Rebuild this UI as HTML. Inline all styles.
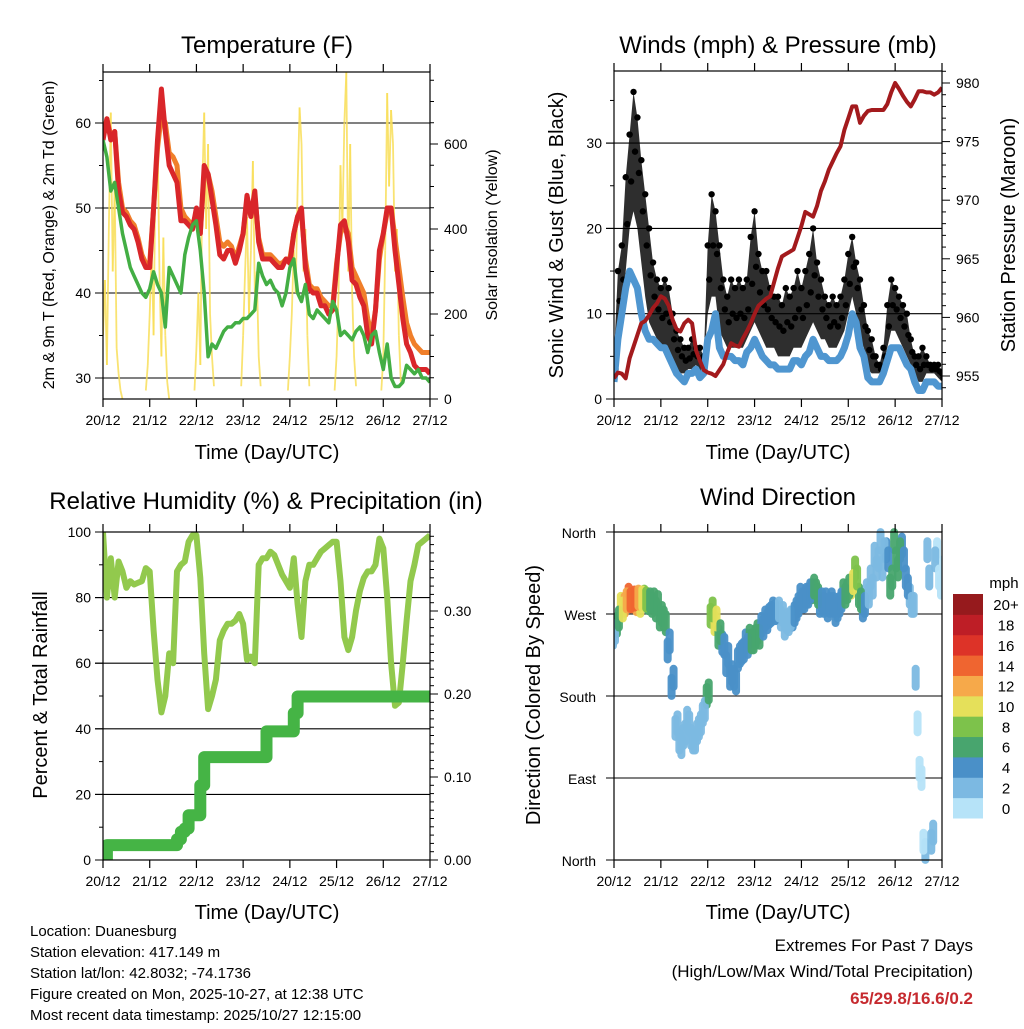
<!DOCTYPE html>
<html><head><meta charset="utf-8"><style>
html,body{margin:0;padding:0;background:#fff;}
svg text{font-family:"Liberation Sans",sans-serif;fill:#000;}
</style></head><body>
<svg id="svg" xmlns="http://www.w3.org/2000/svg" width="1024" height="1024" viewBox="0 0 1024 1024">
<rect width="1024" height="1024" fill="#fff"/>
<defs>
<clipPath id="cT"><rect x="103" y="72" width="327" height="327"/></clipPath>
<clipPath id="cW"><rect x="614" y="71" width="328" height="328"/></clipPath>
<clipPath id="cR"><rect x="103" y="532" width="327" height="328"/></clipPath>
<clipPath id="cD"><rect x="614" y="528" width="328" height="336"/></clipPath>
</defs>
<text x="267" y="53" font-size="24" text-anchor="middle">Temperature (F)</text>
<text x="778" y="53" font-size="24" text-anchor="middle">Winds (mph) &amp; Pressure (mb)</text>
<text x="266" y="509" font-size="24" text-anchor="middle">Relative Humidity (%) &amp; Precipitation (in)</text>
<text x="778" y="505" font-size="24" text-anchor="middle">Wind Direction</text>
<text x="267" y="459" font-size="20" text-anchor="middle">Time (Day/UTC)</text>
<text x="778" y="459" font-size="20" text-anchor="middle">Time (Day/UTC)</text>
<text x="267" y="919" font-size="20" text-anchor="middle">Time (Day/UTC)</text>
<text x="778" y="919" font-size="20" text-anchor="middle">Time (Day/UTC)</text>
<text transform="translate(54,235) rotate(-90)" font-size="16" text-anchor="middle">2m &amp; 9m T (Red, Orange) &amp; 2m Td (Green)</text>
<text transform="translate(497,235) rotate(-90)" font-size="16" text-anchor="middle">Solar Insolation (Yellow)</text>
<text transform="translate(563,235) rotate(-90)" font-size="20" text-anchor="middle">Sonic Wind &amp; Gust (Blue, Black)</text>
<text transform="translate(1015,235) rotate(-90)" font-size="20" text-anchor="middle">Station Pressure (Maroon)</text>
<text transform="translate(47,695) rotate(-90)" font-size="20" text-anchor="middle">Percent &amp; Total Rainfall</text>
<text transform="translate(540,695) rotate(-90)" font-size="20" text-anchor="middle">Direction (Colored By Speed)</text>
<g font-size="15">
<text x="30" y="936">Location: Duanesburg</text>
<text x="30" y="957">Station elevation: 417.149 m</text>
<text x="30" y="978">Station lat/lon: 42.8032; -74.1736</text>
<text x="30" y="999">Figure created on Mon, 2025-10-27, at 12:38 UTC</text>
<text x="30" y="1020">Most recent data timestamp: 2025/10/27 12:15:00</text>
</g>
<g font-size="17" text-anchor="end">
<text x="973" y="951">Extremes For Past 7 Days</text>
<text x="973" y="977">(High/Low/Max Wind/Total Precipitation)</text>
<text x="973" y="1004" font-weight="bold" style="fill:#c62a2f">65/29.8/16.6/0.2</text>
</g>
<g id="layer"></g>
</svg>
<script>
// ---- data (2-hourly, t = 0..168 h from 20/12 00 UTC) ----
const dayLabels = ["20/12","21/12","22/12","23/12","24/12","25/12","26/12","27/12"];
const tempRed = [58,60.5,58,59,52,49.5,49,48,47.5,46,44,43,43, 50,58,64,59,55,54,53,48.5,48.5,48,47.5,50, 47,55,54,51,48,44.5,44,45,45,43.5,45, 47,51.5,49,52,46,44,44,44,43.5,43,43,44,43.5, 47,49,50,43,40.5,40,40,38.5,38.5,37.5,38, 43,48,48.5,46,41.5,41,39.5,38.5,35,34, 38,45,47,50,50,45,41,37,34,33,31.5,31,31,31,30.5];
const tempOrange = [58.5,60.5,58.5,59,53,50,49.5,48.5,48,46.5,44.5,43.5,43.5, 50,57,61,60,56.5,56,55,50,49,48.5,48,49.5, 47,54,54,52,49,46,45.5,46,45.5,44,45.5, 47,51,49,51.5,46.5,44.5,44.5,44.5,44,43.5,43.5,44,44, 47,49,49,44,41,40.5,40.5,39.5,39,38.5,38.5, 43.5,47,48,47,43,42,41,40,37,35, 38,44,47,49.5,50,46.5,43,39.5,36.5,35,34,33.5,33,33,33];
const dewGreen = [58,56,52,53,50,47,45,43,42,41,40,39.5,40.5, 42.5,41,40,36,43,42,41,40,44.5,46.5,48,48.5, 45,40,32.5,34,33.5,34.5,35.5,36,36,36.5,36.5, 37,37,37.5,38,43.5,42,41,41.5,40.5,40,38.5,40,43, 44,40,39,41,37.5,37,38,37.5,37,36.5,39, 38,35,35.5,35,34.5,35.5,36,35,33,35, 35.5,33,31,34,30,29,29,29.5,31.5,31,30.5,31,30,30,29.5];
const solarHours = [0,1,2,3,4,5,6,7,8,9,10, 22,23,24,25,26,27,28,29,30,31,32,33,34, 47,48,49,50,51,52,53,54,55,56,57, 71,72,73,74,75,76,77,78,79,80,81, 95,96,97,98,99,100,101,102,103,104,105,106, 119,120,121,122,123,124,125,126,127,128,129,130, 143,144,145,146,147,148,149,150,151,152,153];
const solarVals = [150,280,80,400,674,300,500,120,60,20,0, 20,80,200,350,150,550,631,300,100,380,150,40,0, 20,120,250,80,500,674,400,600,200,100,30, 30,150,300,428,200,350,560,250,300,100,30, 20,100,200,350,250,500,686,600,300,400,150,30, 20,100,250,550,400,650,768,300,600,250,100,30, 20,100,350,720,500,680,600,300,400,150,40];
const windBlue = [2,7,10,13,15,14,13,10,8,7,7,6.5,6, 6,5,4,3,2.5,2,3,3,3.5,2.5,3,7, 8,10,6,5,5,5,4.5,4.5,4,5.5,6, 7,6,5,4.5,4,4,3.5,3.5,3.5,3.5,4.5,4.5,4, 5,5.5,7,6,5,5,4.5,4.5,4.5,5,6, 7.5,10,9,6,5,2.5,2,2,2,3, 4.5,6,6,6,5,4,3.5,2,1,1,2,2,2,1.5,1.5];
const gustHi = [5,15,18,26,31,36,33,28,24,20,16,14,13, 14,13,10,8,7,6,6,7,6,6,5,18, 24,22,18,14,12,14,13,14,13,14,19, 22,17,15,15,13,12,12,11,13,12,13,15,13, 15,17,20,16,14,12,11,12,11,12,14, 17,19,16,14,11,8,7,5,4,6, 11,14,13,12,11,10,7,5,5,6,5,4,4,4,3];
const gustLo = [2,8,10,15,20,22,20,16,12,9,8,7,6, 6,5,4,3.5,3,3,3.5,3.5,4,3,4,10, 12,12,8,7,6,6,6,6,6,7,8, 9,8,7,6,6,6,5,5,5,5,6,6,6, 7,8,9,8,7,7,6,6,6,7,8, 10,12,10,7,6,3.5,3,3,3,4, 6,8,8,7,6,5,4,3,2,2,3,3,3,2.5,2];
const pressure = [954.8,955.3,955.2,954.8,956.5,957.5,958.5,959.5,959.7,960.2,960.8,961.2,961.8, 961.6,961,959.8,959,958.8,959.5,959.8,959.5,957.2,956.3,955.5,955.3, 955.2,955,955.5,956,957,957.8,957.6,957.5,958.2,958.8,959.5, 960.3,961,961.3,961.6,961.8,963,964.2,965.2,965.4,965.6,965.8,966.8,967.8, 969,968.8,968.6,969.5,970.8,971.6,972.6,973.3,974,974.6,976, 977,978,978,976.6,977.2,977.6,977.7,977.7,977.7,977.7, 978.2,979.2,980,979.5,978.9,978.4,978,978.6,979.3,979.3,979.2,979.2,979,979.2,979.6];
const relHum = [100,80,92,80,91,88,83,85,84,84.5,85,89,88, 70,55,45,50,63,60,88,90,91,97,99,99, 86,63,46,50,55,67,70,72,72,73,75, 72,61,62,60,90,92,92,94,93,90,87,85,83, 92,78,68,85,90,90,92,94,95,96,97, 97,85,68,64,68,76,82,86,88,88, 90,98,95,80,60,47,48,60,73,85,90,96,97,98,99];
const precip = [0,0.018,0.018,0.018,0.018,0.018,0.018,0.018,0.018,0.018,0.018,0.018,0.018, 0.018,0.018,0.018,0.018,0.018,0.018,0.025,0.034,0.038,0.054,0.054,0.054, 0.09,0.124,0.124,0.124,0.124,0.124,0.124,0.124,0.124,0.124,0.124, 0.124,0.124,0.124,0.124,0.124,0.124,0.155,0.155,0.155,0.155,0.155,0.155,0.155, 0.177,0.197,0.197,0.197,0.197,0.197,0.197,0.197,0.197,0.197,0.197, 0.197,0.197,0.197,0.197,0.197,0.197,0.197,0.197,0.197,0.197, 0.197,0.197,0.197,0.197,0.197,0.197,0.197,0.197,0.197,0.197,0.197,0.197,0.197,0.197,0.197];
const windDir = [250,265,275,285,285,287,288,287,286,285,285,282,270, 260,240,200,150,125,140,150,130,140,150,165,185, 275,265,250,235,225,205,195,225,230,235,240, 245,245,255,262,270,272,275,270,262,265,270,280,285, 290,295,300,290,285,285,280,280,275,285,290, 300,305,310,285,280,290,300,320,350,340, 330,310,330,340,330,300,280,200,100,20,340,20,330,310,320];
const windDirAlt = [245,258,280,280,290,285,282,280,288,283,280,275,265, 265,230,190,145,130,135,155,135,130,145,160,180, 268,260,245,238,215,200,200,220,228,240,245, 240,250,258,265,268,275,272,265,255,260,265,275,290, 285,290,295,295,280,280,275,285,270,280,295, 295,300,320,290,275,295,310,335,330,320, 340,300,350,320,345,310,290,280,150,90,10,310,30,340,300];
const speedBins = ["0","2","4","6","8","10","12","14","16","18","20+"];
const binColors = ["#b6e3f8","#7cb9e2","#4a90c8","#48a56e","#7dc24b","#e5e05a","#f6a94a","#ef6530","#dd3328","#be1e26","#961a1d"];

const NS="http://www.w3.org/2000/svg";
const layer=document.getElementById('layer');
function el(tag,attrs,parent){const e=document.createElementNS(NS,tag);for(const k in attrs)e.setAttribute(k,attrs[k]);(parent||layer).appendChild(e);return e;}
function txt(x,y,s,size,anchor,parent){const e=el('text',{x:x,y:y,'font-size':size,'text-anchor':anchor},parent);e.textContent=s;return e;}
const tIdx=i=>i*2;

const xL=t=>103+t*327/168, xR=t=>614+t*328/168;
const yT=v=>378-(v-30)*8.5, ySol=w=>399-w*0.425;
const yW=v=>399-v*8.53, yP=p=>376-(p-955)*11.72;
const yRH=v=>860-v*3.28, yPr=p=>860-p*830;
const yD=d=>860-d*328/360;

function grid(x0,x1,ys){ys.forEach(y=>{const l=el('line',{x1:x0-8,x2:x1,y1:y,y2:y,stroke:'#000','stroke-width':1.1});

});}
function frame(x0,y0,x1,y1,name){
  const g=el('g',{});
  
  
  el('rect',{x:x0,y:y0,width:x1-x0,height:y1-y0,fill:'none',stroke:'#000','stroke-width':1.2},g);
  for(let d=0;d<8;d++){const x=x0+d*(x1-x0)/7;
    el('line',{x1:x,x2:x,y1:y1,y2:y1+8,stroke:'#000','stroke-width':1.2},g);
    el('line',{x1:x,x2:x,y1:y0-8,y2:y0,stroke:'#000','stroke-width':1.2},g);
    const lb=txt(x,y1+26,dayLabels[d],14,'middle',g);
    
    }
  return g;
}
function leftTicks(g,x0,vals,fy,labels,minor){
  vals.forEach((v,i)=>{const y=fy(v);el('line',{x1:x0-8,x2:x0,y1:y,y2:y,stroke:'#000'},g);
    const t=txt(x0-12,y+5,labels[i],14,'end',g);
    
    });
  (minor||[]).forEach(v=>{const y=fy(v);el('line',{x1:x0-4,x2:x0,y1:y,y2:y,stroke:'#000'},g);});
}
function rightTicks(g,x1,vals,fy,labels,minor){
  vals.forEach((v,i)=>{const y=fy(v);el('line',{x1:x1,x2:x1+8,y1:y,y2:y,stroke:'#000'},g);
    const t=txt(x1+14,y+5,labels[i],14,'start',g);
    
    });
  (minor||[]).forEach(v=>{const y=fy(v);el('line',{x1:x1,x2:x1+4,y1:y,y2:y,stroke:'#000'},g);});
}
function poly(xs,ys){return xs.map((x,i)=>x.toFixed(1)+','+ys[i].toFixed(1)).join(' ');}

// ===== Temperature =====
grid(103,430,[30,40,50,60].map(yT));
{
 const g=el('g',{'clip-path':'url(#cT)'});
 
 
 for(let i=0;i<solarHours.length-1;i++){
   if(solarHours[i+1]-solarHours[i]>1) continue;
   const l=el('line',{x1:xL(solarHours[i]),y1:ySol(solarVals[i]),x2:xL(solarHours[i+1]),y2:ySol(solarVals[i+1]),stroke:'#f9df5a','stroke-width':1.8,opacity:0.85},g);
   
   
 }
 const xs=tempRed.map((v,i)=>xL(tIdx(i)));
 const o=el('polyline',{points:poly(xs,tempOrange.map(yT)),fill:'none',stroke:'#f07f2a','stroke-width':5,'stroke-linejoin':'round'},g);
 
 
 const r=el('polyline',{points:poly(xs,tempRed.map(yT)),fill:'none',stroke:'#d9262a','stroke-width':5,'stroke-linejoin':'round'},g);
 
 
 const gr=el('polyline',{points:poly(xs,dewGreen.map(yT)),fill:'none',stroke:'#43ae44','stroke-width':3.5,'stroke-linejoin':'round'},g);
 
 
}
{
 const f=frame(103,72,430,399,'temperature-axes');
 leftTicks(f,103,[30,40,50,60],yT,['30','40','50','60'],[35,45,55,65]);
 rightTicks(f,430,[0,200,400,600],ySol,['0','200','400','600'],[50,100,150,250,300,350,450,500,550,650,700,750]);
}

// ===== Winds =====
grid(614,942,[10,20,30].map(yW));
{
 const g=el('g',{'clip-path':'url(#cW)'});
 
 
 const xs=gustHi.map((v,i)=>xR(tIdx(i)));
 const band=el('polygon',{points:poly(xs.concat(xs.slice().reverse()),gustHi.map(yW).concat(gustLo.map(yW).reverse())),fill:'#000','fill-opacity':0.82},g);
 
 
 gustHi.forEach((v,i)=>{
   const c=el('circle',{cx:xs[i],cy:yW(v),r:3.2,fill:'#000'},g);
   
   
   const c2=el('circle',{cx:xs[i]+1.5,cy:yW((v+gustLo[i])/2),r:3.2,fill:'#000'},g);
   
   
 });
 const b=el('polyline',{points:poly(xs,windBlue.map(yW)),fill:'none',stroke:'#4f96d0','stroke-width':7,'stroke-linejoin':'round'},g);
 
 
 const p=el('polyline',{points:poly(xs,pressure.map(yP)),fill:'none',stroke:'#a31a1d','stroke-width':4,'stroke-linejoin':'round'},g);
 
 
}
{
 const f=frame(614,71,942,399,'winds-axes');
 leftTicks(f,614,[0,10,20,30],yW,['0','10','20','30'],[5,15,25,35]);
 const pv=[955,960,965,970,975,980], pm=[];
 for(let p=954;p<=981;p++) if(p%5) pm.push(p);
 rightTicks(f,942,pv,yP,pv.map(String),pm);
}

// ===== RH =====
grid(103,430,[20,40,60,80].map(yRH));
{
 const g=el('g',{'clip-path':'url(#cR)'});
 
 
 const xs=relHum.map((v,i)=>xL(tIdx(i)));
 const h=el('polyline',{points:poly(xs,relHum.map(yRH)),fill:'none',stroke:'#92c94d','stroke-width':6,'stroke-linejoin':'round'},g);
 
 
 const px=[],py=[];
 precip.forEach((p,i)=>{ if(i>0){px.push(xs[i]);py.push(yPr(precip[i-1]));} px.push(xs[i]);py.push(yPr(p)); });
 const pr=el('polyline',{points:poly(px,py),fill:'none',stroke:'#45b445','stroke-width':12,'stroke-linejoin':'round','stroke-linecap':'round'},g);
 
 
}
{
 const f=frame(103,532,430,860,'humidity-axes');
 leftTicks(f,103,[0,20,40,60,80,100],yRH,['0','20','40','60','80','100'],[10,30,50,70,90]);
 const pm=[];for(let k=1;k<40;k++) if(k%10) pm.push(k/100);
 rightTicks(f,430,[0,0.1,0.2,0.3],yPr,['0.00','0.10','0.20','0.30'],pm.filter(v=>yPr(v)>532));
}

// ===== Wind direction =====
grid(614,942,[90,180,270].map(yD).concat([yD(0),yD(360)]));
{
 const g=el('g',{'clip-path':'url(#cD)'});
 
 
 [windDirAlt,windDir].forEach((arr,k)=>{
  arr.forEach((d,i)=>{
   const b=Math.max(0,Math.min(10,Math.floor(windBlue[i]/2)));
   const x=xR(tIdx(i))+(k?1:-1), y=yD(d);
   const l=el('line',{x1:x,x2:x,y1:y-9,y2:y+9,stroke:binColors[b],'stroke-width':8,'stroke-linecap':'round','stroke-opacity':0.95},g);
   
   
  });
 });
}
{
 const f=frame(614,532,942,860,'direction-axes');
 const dn=['North','East','South','West','North'];
 [0,90,180,270,360].forEach((d,i)=>{const t=txt(596,yD(d)+6,dn[i],14,'end',f);
   
   });
 const cb=el('g',{});
 
 
 const h=224/11;
 speedBins.forEach((s,i)=>{
   const y=818-(i+1)*h;
   const r=el('rect',{x:953,y:y,width:30,height:h+0.5,fill:binColors[i]},cb);
   
   
   const t=txt(1006,y+h/2+6,s,15,'middle',cb);
   
   
 });
 const u=txt(1004,588,'mph',15,'middle',cb);
 
 
}
</script>
</body></html>
